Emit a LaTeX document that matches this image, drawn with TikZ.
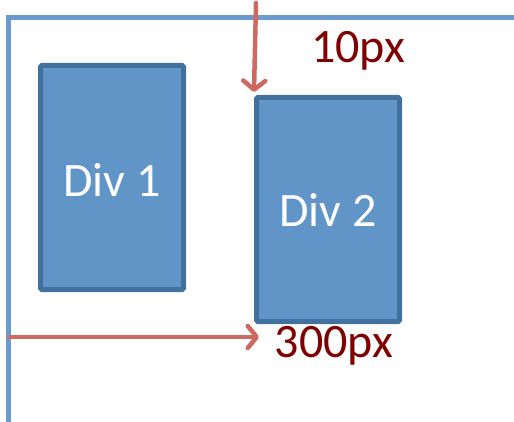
\documentclass[tikz,border=0pt]{standalone}
\usepackage{fontspec}
\setmainfont{Carlito}
\usetikzlibrary{arrows.meta}
\definecolor{framebl}{RGB}{106,155,208}
\definecolor{divfill}{RGB}{97,149,200}
\definecolor{divedge}{RGB}{65,113,156}
\definecolor{arrred}{RGB}{205,105,97}
\definecolor{lblred}{RGB}{128,0,0}
\tikzset{
	divbox/.style = {draw = divedge, fill = divfill, line width = 5pt, rounded corners = 1.5pt,
		minimum width = 143pt, minimum height = 224pt, inner sep = 0pt},
	divtext/.style = {text = white, font = \fontsize{48}{48}\selectfont, anchor = base},
	pxtext/.style = {text = lblred, font = \fontsize{48}{48}\selectfont, anchor = base},
	offset/.style = {draw = arrred, line width = 4.5pt, line cap = round, line join = round,
		-{Straight Barb[length = 9pt, width = 22pt, line cap = round, line join = round]}}
}
\begin{document}
\begin{tikzpicture}[x = 1pt, y = -1pt]
					\useasboundingbox (0,0) rectangle (514,422);
					\draw [framebl, line width = 5pt] (8,430) -- (8,17.5) -- (520,17.5);

					\node [divbox] (div1) at (112,177.5) {};
					\node [divbox] (div2) at (328,209.5) {};
					\node [divtext] at (112,197) {Div 1};
					\node [divtext] at (328,227) {Div 2};

					\coordinate (top) at (256,3);
					\coordinate (left) at (9,337);
					\coordinate (reach) at (259,337);
					\draw [offset] (top) -- ([yshift = 3pt]div2.north west);
					\draw [offset] (left) -- (reach);

					\node [pxtext] (top px) at (358,63) {10px};
					\node [pxtext] (left px) at (334,357) {300px};
				\end{tikzpicture}
\end{document}
